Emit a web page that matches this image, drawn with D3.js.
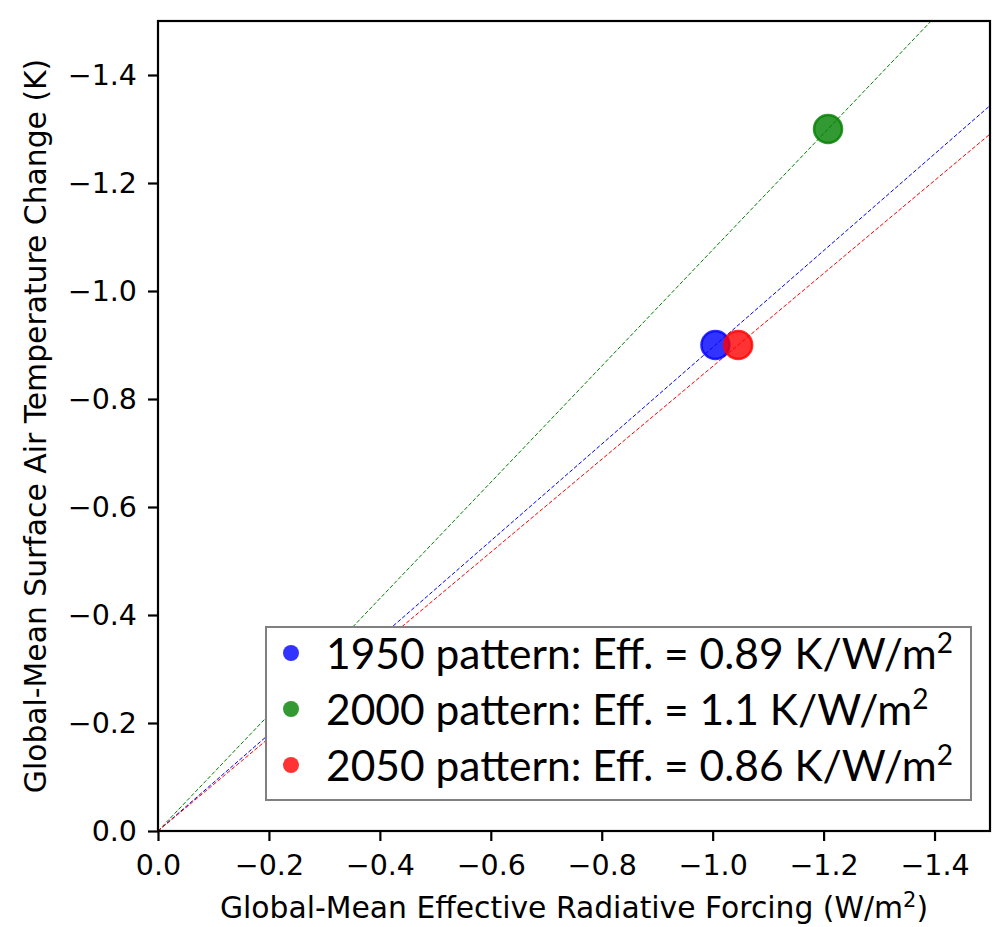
<!DOCTYPE html>
<html lang="en">
<head>
  <meta charset="UTF-8">
  <title>Efficacy of forcing patterns</title>
  <script src="https://d3js.org/d3.v7.min.js"></script>
  <style>
    body { margin: 0; background: #fff; }
    text { fill: #000; }
  </style>
</head>
<body>
  <svg width="993" height="927"></svg>
  <script>
    // values
    const patterns = ["1950 pattern", "2000 pattern", "2050 pattern"];
    const effLabels = ["0.89", "1.1", "0.86"];
    const forcing = [-1.005, -1.208, -1.046];   // W/m2
    const tempChange = [-0.9, -1.3, -0.9];      // K
    const colors = ["#0000ff", "#008000", "#ff0000"];
    const xTicks = [0.0, -0.2, -0.4, -0.6, -0.8, -1.0, -1.2, -1.4];
    const yTicks = [0.0, -0.2, -0.4, -0.6, -0.8, -1.0, -1.2, -1.4];

    const svg = d3.select("svg");
    const m = { left: 158, right: 990, top: 21, bottom: 831 };

    const x = d3.scaleLinear().domain([0, -1.5]).range([m.left, m.right]);
    const y = d3.scaleLinear().domain([0, -1.5]).range([m.bottom, m.top]);

    svg.append("clipPath").attr("id", "plot")
      .append("rect")
      .attr("x", m.left).attr("y", m.top)
      .attr("width", m.right - m.left).attr("height", m.bottom - m.top);

    const fmt = d => d3.format(".1f")(d).replace("-", "\u2212");
    const tickFont = "'DejaVu Sans', sans-serif";

    const xAxis = svg.append("g")
      .attr("transform", `translate(0,${m.bottom})`)
      .call(d3.axisBottom(x).tickValues(xTicks).tickFormat(fmt).tickSize(10).tickPadding(14));
    const yAxis = svg.append("g")
      .attr("transform", `translate(${m.left},0)`)
      .call(d3.axisLeft(y).tickValues(yTicks).tickFormat(fmt).tickSize(10).tickPadding(11));

    [xAxis, yAxis].forEach(a => {
      a.select(".domain").remove();
      a.selectAll(".tick line").attr("stroke", "#000").attr("stroke-width", 2.2);
      a.selectAll(".tick text").attr("font-family", tickFont).attr("font-size", 28.5).attr("fill", "#000");
    });

    // efficacy lines through the origin
    const lines = svg.append("g").attr("clip-path", "url(#plot)");
    patterns.forEach((p, i) => {
      const slope = tempChange[i] / forcing[i];
      lines.append("line")
        .attr("x1", x(0)).attr("y1", y(0))
        .attr("x2", x(-1.5)).attr("y2", y(-1.5 * slope))
        .attr("stroke", colors[i])
        .attr("stroke-width", 1)
        .attr("stroke-dasharray", "4,2");
    });

    // points
    svg.append("g").selectAll("circle")
      .data(patterns)
      .enter().append("circle")
      .attr("cx", (d, i) => x(forcing[i]))
      .attr("cy", (d, i) => y(tempChange[i]))
      .attr("r", 14)
      .attr("fill", (d, i) => colors[i])
      .attr("fill-opacity", 0.8)
      .attr("stroke", (d, i) => colors[i])
      .attr("stroke-opacity", 0.8)
      .attr("stroke-width", 2.5);

    // frame
    svg.append("rect")
      .attr("x", m.left).attr("y", m.top)
      .attr("width", m.right - m.left).attr("height", m.bottom - m.top)
      .attr("fill", "none").attr("stroke", "#000").attr("stroke-width", 2.2);

    // axis titles
    const xt = svg.append("text")
      .attr("x", (m.left + m.right) / 2).attr("y", 918)
      .attr("text-anchor", "middle")
      .attr("font-family", tickFont).attr("font-size", 29.8);
    xt.append("tspan").text("Global-Mean Effective Radiative Forcing (W/m");
    xt.append("tspan").attr("dy", -11).attr("font-size", 21).text("2");
    xt.append("tspan").attr("dy", 11).text(")");

    svg.append("text")
      .attr("transform", `translate(46,${(m.top + m.bottom) / 2}) rotate(-90)`)
      .attr("text-anchor", "middle")
      .attr("font-family", tickFont).attr("font-size", 29.8)
      .text("Global-Mean Surface Air Temperature Change (K)");

    // legend
    const lg = svg.append("g").attr("transform", "translate(266,627)");
    lg.append("rect")
      .attr("width", 705).attr("height", 173)
      .attr("fill", "#fff").attr("stroke", "#808080").attr("stroke-width", 2);
    patterns.forEach((p, i) => {
      const row = lg.append("g").attr("transform", `translate(0,${26 + i * 56})`);
      row.append("circle")
        .attr("cx", 25).attr("cy", 0).attr("r", 8)
        .attr("fill", colors[i]).attr("fill-opacity", 0.8);
      const t = row.append("text")
        .attr("x", 60).attr("y", 16)
        .attr("font-family", "Lato").attr("font-size", 42.5);
      t.append("tspan").text(`${p}: Eff. = ${effLabels[i]} K/W/m`);
      t.append("tspan").attr("dy", -16).attr("font-size", 28).text("2");
    });
  </script>
</body>
</html>
